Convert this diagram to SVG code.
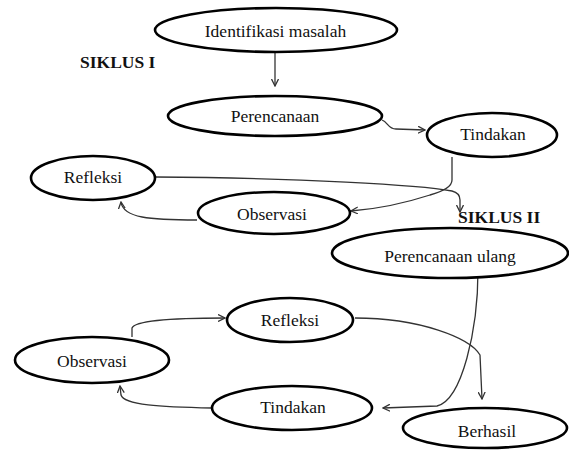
<svg xmlns="http://www.w3.org/2000/svg" width="569" height="450" viewBox="0 0 569 450">
<style>
.node ellipse{fill:#fff;stroke:#000;stroke-width:2.6}
text{font-family:'Liberation Serif','Times New Roman','DejaVu Serif',serif;font-size:17.5px;fill:#111}
.node text{text-anchor:middle}
.lbl{font-weight:bold}
.conn path{fill:none;stroke:#333;stroke-width:1.3}
</style>
<defs>
<marker id="arr" viewBox="0 0 8 8" refX="7" refY="4" markerWidth="8" markerHeight="8" markerUnits="userSpaceOnUse" orient="auto">
<path d="M0,0.5 L7,4 L0,7.5" fill="none" stroke="#333" stroke-width="1.3"/>
</marker>
</defs>
<rect width="569" height="450" fill="#fff"/>
<g font-family="Liberation Serif, serif">
<text class="lbl" x="80" y="68">SIKLUS I</text>
<text class="lbl" x="458" y="223">SIKLUS II</text>
</g>
<g class="conn">
<path d="M275,52 L275,86" marker-end="url(#arr)"/>
<path d="M382,120 C388,122 388,129 396,129 L425,130" marker-end="url(#arr)"/>
<path d="M452,157 L452,180 Q452,189 430,195 Q390,208 351,211" marker-end="url(#arr)"/>
<path d="M197,220 C150,220 123,218 121,202" marker-end="url(#arr)"/>
<path d="M155,177 C300,178 420,185 452,191 Q460,193 460,200 L460,212" marker-end="url(#arr)"/>
<path d="M478,270 C478,330 462,400 437,406 L383,408" marker-end="url(#arr)"/>
<path d="M355,318 C420,318 470,338 480,355 L482,399" marker-end="url(#arr)"/>
<path d="M132,337 L132,328 C135,320 180,318 225,318" marker-end="url(#arr)"/>
<path d="M212,408 C160,407 124,405 121,395 L120,386" marker-end="url(#arr)"/>
</g>
<g id="identifikasi" class="node"><ellipse cx="276" cy="30" rx="121" ry="22"/><text x="275.5" y="37">Identifikasi masalah</text></g>
<g id="perencanaan" class="node"><ellipse cx="275" cy="116" rx="107" ry="20"/><text x="275" y="122">Perencanaan</text></g>
<g id="tindakan1" class="node"><ellipse cx="492" cy="135" rx="65" ry="22"/><text x="493" y="140">Tindakan</text></g>
<g id="refleksi1" class="node"><ellipse cx="93" cy="178" rx="62" ry="22"/><text x="93" y="183">Refleksi</text></g>
<g id="observasi1" class="node"><ellipse cx="274" cy="213" rx="76" ry="21"/><text x="272" y="220">Observasi</text></g>
<g id="perencanaan-ulang" class="node"><ellipse cx="450" cy="253" rx="118" ry="25"/><text x="450" y="262">Perencanaan ulang</text></g>
<g id="refleksi2" class="node"><ellipse cx="290" cy="320" rx="63" ry="22"/><text x="290" y="326">Refleksi</text></g>
<g id="observasi2" class="node"><ellipse cx="92" cy="360" rx="77" ry="23"/><text x="92" y="367">Observasi</text></g>
<g id="tindakan2" class="node"><ellipse cx="292" cy="408" rx="80" ry="22"/><text x="293" y="413">Tindakan</text></g>
<g id="berhasil" class="node"><ellipse cx="485" cy="428" rx="82" ry="20"/><text x="487" y="437">Berhasil</text></g>
</svg>
